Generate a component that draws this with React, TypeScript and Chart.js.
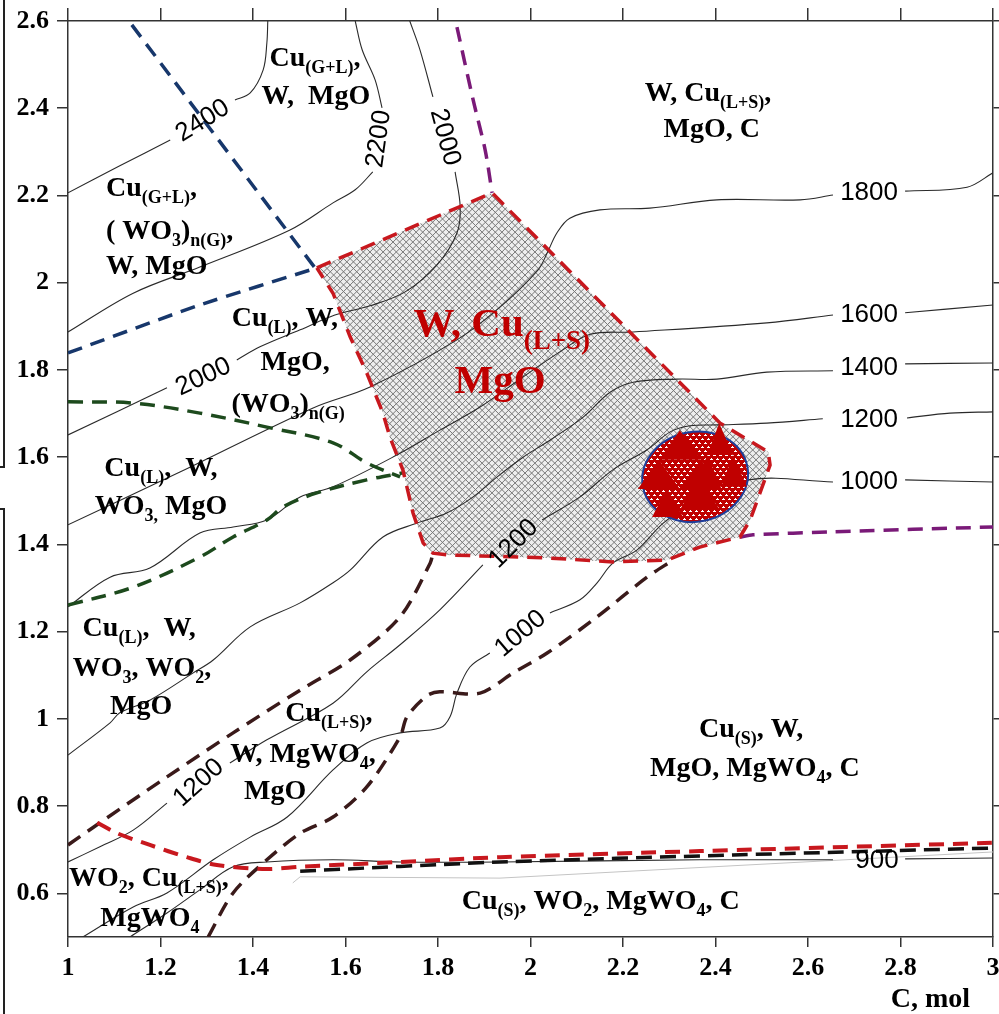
import React, { useEffect, useRef } from 'react';
import { Chart, registerables } from 'chart.js';

Chart.register(...registerables);

type P = [number, number];

// ---------- axes ----------
const xTicks = [1, 1.2, 1.4, 1.6, 1.8, 2, 2.2, 2.4, 2.6, 2.8, 3];
const xTickLabels = ['1', '1.2', '1.4', '1.6', '1.8', '2', '2.2', '2.4', '2.6', '2.8', '3'];
const yTicks = [0.6, 0.8, 1, 1.2, 1.4, 1.6, 1.8, 2, 2.2, 2.4, 2.6];
const yTickLabels = ['0.6', '0.8', '1', '1.2', '1.4', '1.6', '1.8', '2', '2.2', '2.4', '2.6'];
const xAxisTitle = 'C, mol';

// ---------- isotherms (segments split at label gaps) ----------
const iso2400: P[][] = [
  [[1.0, 2.206], [1.112, 2.268], [1.221, 2.327]],
  [[1.361, 2.419], [1.394, 2.435], [1.422, 2.488], [1.43, 2.55], [1.432, 2.6]],
];
const iso2200: P[][] = [
  [[1.0, 1.887], [1.141, 1.976], [1.285, 2.036], [1.48, 2.121], [1.573, 2.183], [1.621, 2.213], [1.659, 2.254]],
  [[1.679, 2.401], [1.664, 2.465], [1.636, 2.534], [1.621, 2.6]],
];
const iso2000: P[][] = [
  [[1.739, 2.6], [1.761, 2.534], [1.789, 2.426]],
  [[1.837, 2.254], [1.848, 2.174], [1.841, 2.114], [1.798, 2.041], [1.729, 1.979], [1.653, 1.947], [1.577, 1.926], [1.502, 1.892], [1.415, 1.853], [1.365, 1.823]],
  [[1.214, 1.759], [1.0, 1.651]],
];
const iso1800: P[][] = [
  [[1.0, 1.445], [1.242, 1.566], [1.53, 1.713], [1.653, 1.761], [1.841, 1.869], [1.934, 1.944], [2.016, 2.029], [2.036, 2.068], [2.057, 2.114], [2.085, 2.148], [2.15, 2.167], [2.258, 2.171], [2.403, 2.19], [2.583, 2.19], [2.654, 2.201]],
  [[2.81, 2.21], [2.944, 2.219], [3.0, 2.252]],
];
const iso1600: P[][] = [
  [[1.0, 1.257], [1.091, 1.325], [1.177, 1.346], [1.285, 1.426], [1.357, 1.44], [1.43, 1.456], [1.502, 1.509], [1.573, 1.532], [1.711, 1.605], [1.804, 1.662], [1.891, 1.715], [1.984, 1.784], [2.07, 1.846], [2.129, 1.882], [2.222, 1.887], [2.511, 1.908], [2.654, 1.926]],
  [[2.81, 1.931], [3.0, 1.949]],
];
const iso1400: P[][] = [
  [[1.0, 0.917], [1.091, 0.991], [1.112, 1.014], [1.177, 1.043], [1.27, 1.105], [1.314, 1.135], [1.394, 1.211], [1.502, 1.266], [1.573, 1.312], [1.61, 1.341], [1.681, 1.417], [1.755, 1.449], [1.819, 1.472], [1.876, 1.509], [1.928, 1.555], [1.984, 1.6], [2.042, 1.639], [2.114, 1.692], [2.172, 1.749], [2.222, 1.772], [2.317, 1.779], [2.403, 1.779], [2.511, 1.795], [2.654, 1.798]],
  [[2.81, 1.814], [3.0, 1.816]],
];
const iso1200: P[][] = [
  [[1.0, 0.672], [1.069, 0.707], [1.141, 0.745], [1.214, 0.807]],
  [[1.35, 0.899], [1.43, 0.952], [1.573, 1.036], [1.646, 1.108], [1.718, 1.17], [1.804, 1.25], [1.897, 1.353]],
  [[2.025, 1.456], [2.107, 1.509], [2.178, 1.571], [2.252, 1.617], [2.302, 1.658], [2.345, 1.672], [2.403, 1.674], [2.511, 1.678], [2.632, 1.688]],
  [[2.814, 1.69], [2.907, 1.701], [3.0, 1.704]],
];
const iso1000: P[][] = [
  [[1.032, 0.5], [1.141, 0.569], [1.214, 0.601], [1.314, 0.677], [1.394, 0.729], [1.474, 0.775], [1.573, 0.883], [1.646, 0.945], [1.718, 0.968], [1.804, 0.979], [1.826, 1.005], [1.841, 1.059], [1.869, 1.119], [1.912, 1.151]],
  [[2.042, 1.243], [2.107, 1.273], [2.144, 1.312], [2.178, 1.357], [2.23, 1.387], [2.287, 1.449], [2.345, 1.49], [2.47, 1.548], [2.654, 1.543]],
  [[2.81, 1.548], [3.0, 1.543]],
];
const iso900: P[][] = [
  [[1.134, 0.5], [1.214, 0.555], [1.285, 0.608], [1.357, 0.661], [1.43, 0.672], [1.573, 0.677], [1.718, 0.672], [1.934, 0.672], [2.366, 0.677], [2.654, 0.677]],
  [[2.81, 0.679], [3.0, 0.681]],
];

// isotherm labels: text, x, y, rotation (deg)
const isoLabelText = ['2400', '2200', '2000', '2000', '1800', '1600', '1400', '1200', '1000', '1200', '1000', '1200', '900'];
const isoLabelX = [1.29, 1.67, 1.817, 1.292, 2.732, 2.732, 2.732, 2.732, 2.732, 1.962, 1.977, 1.281, 2.749];
const isoLabelY = [2.373, 2.33, 2.334, 1.786, 2.208, 1.928, 1.807, 1.688, 1.545, 1.403, 1.197, 0.855, 0.677];
const isoLabelRot = [-32, -82, 75, -25, 0, 0, 0, 0, 0, -45, -40, -42, 0];

// ---------- phase boundaries ----------
const blueA: P[] = [[1.138, 2.591], [1.534, 2.034]];
const blueB: P[] = [[1.0, 1.839], [1.285, 1.949], [1.538, 2.034]];
const greenUpper: P[] = [[1.0, 1.727], [1.141, 1.724], [1.285, 1.701], [1.43, 1.669], [1.573, 1.633], [1.646, 1.587], [1.718, 1.555]];
const greenLower: P[] = [[1.0, 1.261], [1.141, 1.302], [1.285, 1.371], [1.357, 1.417], [1.43, 1.456], [1.465, 1.486], [1.538, 1.518], [1.646, 1.548], [1.724, 1.564]];
const purpleUpper: P[] = [[1.841, 2.586], [1.876, 2.419], [1.902, 2.304], [1.917, 2.206]];
const purpleLower: P[] = [[2.453, 1.417], [2.481, 1.422], [2.654, 1.429], [3.0, 1.44]];
const brownA: P[] = [[1.0, 0.711], [1.069, 0.762], [1.214, 0.867], [1.357, 0.968], [1.502, 1.066], [1.61, 1.135], [1.718, 1.234], [1.783, 1.357], [1.789, 1.38]];
const brownB: P[] = [[1.303, 0.5], [1.357, 0.601], [1.43, 0.677], [1.502, 0.738], [1.573, 0.775], [1.646, 0.844], [1.718, 0.959], [1.733, 1.005], [1.776, 1.053], [1.804, 1.062], [1.891, 1.059], [1.962, 1.105], [2.036, 1.151], [2.144, 1.234], [2.252, 1.325], [2.308, 1.364]];
const redLower: P[] = [[1.063, 0.762], [1.106, 0.738], [1.177, 0.711], [1.257, 0.683], [1.322, 0.665], [1.43, 0.656], [1.502, 0.661], [1.718, 0.672], [1.934, 0.683], [2.366, 0.697], [3.0, 0.716]];
const blackDashed: P[] = [[1.502, 0.651], [1.934, 0.672], [2.438, 0.688], [3.0, 0.704]];
const greyOutline: P[] = [[1.486, 0.624], [1.502, 0.638], [1.934, 0.635], [3.0, 0.695]];

// hatched region W, Cu(L+S), MgO
const hatchRegion: P[] = [[1.538, 2.034], [1.917, 2.206], [2.41, 1.678], [2.514, 1.612], [2.518, 1.582], [2.475, 1.456], [2.453, 1.417], [2.366, 1.394], [2.295, 1.364], [2.178, 1.36], [2.036, 1.369], [1.819, 1.376], [1.789, 1.38], [1.768, 1.403], [1.746, 1.472], [1.724, 1.571], [1.696, 1.646], [1.681, 1.701], [1.646, 1.793], [1.61, 1.876], [1.573, 1.976], [1.538, 2.034]];

// optimum zone ellipse and triangles
const ellipseCenter: P = [2.356, 1.555];
const ellipseRadius: P = [0.115, 0.103];
const triangles: P[][] = [
  [[2.323, 1.662], [2.278, 1.594], [2.369, 1.594]],
  [[2.278, 1.594], [2.232, 1.527], [2.323, 1.527]],
  [[2.369, 1.594], [2.323, 1.527], [2.414, 1.527]],
  [[2.408, 1.678], [2.382, 1.605], [2.438, 1.605]],
  [[2.382, 1.605], [2.356, 1.532], [2.412, 1.532]],
  [[2.438, 1.605], [2.412, 1.532], [2.468, 1.532]],
  [[2.295, 1.529], [2.263, 1.463], [2.33, 1.463]],
  [[2.362, 1.555], [2.323, 1.479], [2.41, 1.479]],
];

// region labels (x, y in data units)
const regionText = [
  'Cu_{(G+L)},', 'W,  MgO',
  'Cu_{(G+L)},', '( WO_{3})_{n(G)},', 'W, MgO',
  'Cu_{(L)}, W,', 'MgO,', '(WO_{3})_{n(G)}',
  'Cu_{(L)},  W,', 'WO_{3,} MgO',
  'Cu_{(L)},  W,', 'WO_{3}, WO_{2},', 'MgO',
  'Cu_{(L+S)},', 'W, MgWO_{4},', 'MgO',
  'WO_{2}, Cu_{(L+S)},', 'MgWO_{4}',
  'Cu_{(S)}, WO_{2}, MgWO_{4}, C',
  'Cu_{(S)}, W,', 'MgO, MgWO_{4}, C',
  'W, Cu_{(L+S)},', 'MgO, C',
];
const regionX = [1.534, 1.536, 1.082, 1.082, 1.082, 1.469, 1.491, 1.476, 1.201, 1.201, 1.154, 1.16, 1.158, 1.564, 1.508, 1.448, 1.175, 1.177, 2.152, 2.477, 2.485, 2.384, 2.392];
const regionY = [2.517, 2.43, 2.219, 2.121, 2.041, 1.921, 1.821, 1.724, 1.578, 1.49, 1.211, 1.119, 1.032, 1.016, 0.922, 0.837, 0.638, 0.546, 0.585, 0.979, 0.89, 2.437, 2.355];
const regionLeftAligned = [2, 3, 4];

const mainText = ['W, Cu_{(L+S)}', 'MgO'];
const mainX = [1.938, 1.934];
const mainY = [1.908, 1.779];

// ---------- drawing helpers ----------
const SERIF = '"Liberation Serif", "Times New Roman", serif';
const SANS = '"Liberation Sans", Arial, sans-serif';

function parseRich(s: string) {
  const out: { t: string; sub: boolean }[] = [];
  let i = 0;
  while (i < s.length) {
    const k = s.indexOf('_{', i);
    if (k < 0) { out.push({ t: s.slice(i), sub: false }); break; }
    if (k > i) out.push({ t: s.slice(i, k), sub: false });
    const e = s.indexOf('}', k);
    out.push({ t: s.slice(k + 2, e), sub: true });
    i = e + 1;
  }
  return out;
}

function drawRich(ctx: CanvasRenderingContext2D, s: string, x: number, y: number, size: number, color: string, left: boolean, subOff: number) {
  const subSize = Math.round(size * 0.65);
  const segs = parseRich(s);
  const fontFor = (sub: boolean) => `bold ${sub ? subSize : size}px ${SERIF}`;
  let w = 0;
  for (const g of segs) { ctx.font = fontFor(g.sub); w += ctx.measureText(g.t).width; }
  let cx = left ? x : x - w / 2;
  const base = y + size * 0.33;
  ctx.fillStyle = color;
  ctx.textAlign = 'left';
  ctx.textBaseline = 'alphabetic';
  for (const g of segs) {
    ctx.font = fontFor(g.sub);
    ctx.fillText(g.t, cx, g.sub ? base + size * subOff : base);
    cx += ctx.measureText(g.t).width;
  }
}

const mk = (pts: P[], color: string, width: number, dash: number[], tension: number, order: number) => ({
  data: pts.map(([x, y]) => ({ x, y })),
  showLine: true,
  pointRadius: 0,
  pointHoverRadius: 0,
  borderColor: color,
  backgroundColor: color,
  borderWidth: width,
  borderDash: dash,
  borderCapStyle: 'butt' as const,
  tension,
  fill: false,
  order,
});

const CONTOUR = '#2a2a2a';
const RED = '#c8181e';
const BLUE = '#17376b';
const GREEN = '#1d4a1d';
const PURPLE = '#7a1a78';
const BROWN = '#3a1a1a';

function buildDatasets() {
  const ds: any[] = [];
  for (const iso of [iso2400, iso2200, iso2000, iso1800, iso1600, iso1400, iso1200, iso1000, iso900]) {
    for (const seg of iso) ds.push(mk(seg, CONTOUR, 1.1, [], 0.35, 6));
  }
  ds.push(mk(greyOutline, '#c4c4c4', 1, [], 0, 7));
  const d = [15, 9];
  ds.push(mk(blueA, BLUE, 3.5, d, 0, 2));
  ds.push(mk(blueB, BLUE, 3.5, d, 0.2, 2));
  ds.push(mk(greenUpper, GREEN, 3.5, d, 0.35, 2));
  ds.push(mk(greenLower, GREEN, 3.5, d, 0.35, 2));
  ds.push(mk(purpleUpper, PURPLE, 3.5, d, 0.3, 2));
  ds.push(mk(purpleLower, PURPLE, 3.5, d, 0.2, 2));
  ds.push(mk(brownA, BROWN, 3.5, d, 0.3, 2));
  ds.push(mk(brownB, BROWN, 3.5, d, 0.3, 2));
  ds.push(mk(blackDashed, '#111', 3.5, [16, 8], 0.2, 3));
  ds.push(mk(redLower, RED, 4, d, 0.3, 1));
  ds.push(mk(hatchRegion, RED, 3.5, d, 0, 1));
  return ds;
}

const hatchPlugin = {
  id: 'hatchFill',
  beforeDatasetsDraw(chart: any) {
    const { ctx, scales } = chart;
    const xs = scales.x, ys = scales.y;
    const pts = hatchRegion.map(([a, b]) => [xs.getPixelForValue(a), ys.getPixelForValue(b)]);
    ctx.save();
    ctx.beginPath();
    pts.forEach(([px, py], i) => (i ? ctx.lineTo(px, py) : ctx.moveTo(px, py)));
    ctx.closePath();
    ctx.fillStyle = '#eeeeee';
    ctx.fill();
    ctx.clip();
    let minX = Infinity, maxX = -Infinity, minY = Infinity, maxY = -Infinity;
    for (const [px, py] of pts) { minX = Math.min(minX, px); maxX = Math.max(maxX, px); minY = Math.min(minY, py); maxY = Math.max(maxY, py); }
    const h = maxY - minY;
    ctx.strokeStyle = '#767676';
    ctx.lineWidth = 1;
    ctx.beginPath();
    const step = 6.6;
    for (let s = minX - h; s < maxX + h; s += step) {
      ctx.moveTo(s, minY); ctx.lineTo(s + h, maxY);
      ctx.moveTo(s, maxY); ctx.lineTo(s + h, minY);
    }
    ctx.stroke();
    ctx.restore();
  },
};

const overlayPlugin = {
  id: 'overlay',
  afterDatasetsDraw(chart: any) {
    const { ctx, scales, chartArea } = chart;
    const xs = scales.x, ys = scales.y;
    const X = (v: number) => xs.getPixelForValue(v);
    const Y = (v: number) => ys.getPixelForValue(v);

    // ellipse
    const cx = X(ellipseCenter[0]), cy = Y(ellipseCenter[1]);
    const rx = X(ellipseCenter[0] + ellipseRadius[0]) - cx;
    const ry = cy - Y(ellipseCenter[1] + ellipseRadius[1]);
    ctx.save();
    ctx.beginPath();
    ctx.ellipse(cx, cy, rx, ry, -0.2, 0, Math.PI * 2);
    ctx.fillStyle = '#c00000';
    ctx.fill();
    ctx.save();
    ctx.clip();
    ctx.fillStyle = '#ffffff';
    let row = 0;
    for (let gy = Math.floor(cy - ry); gy < cy + ry; gy += 4, row++) {
      const o = row % 2 ? 3 : 0;
      for (let gx = Math.floor(cx - rx); gx < cx + rx; gx += 6) {
        ctx.fillRect(gx + o, gy, 3, 1);
        ctx.fillRect(gx + o + 1, gy - 1, 1, 2);
      }
    }
    ctx.restore();
    ctx.beginPath();
    ctx.ellipse(cx, cy, rx, ry, -0.2, 0, Math.PI * 2);
    ctx.strokeStyle = '#1f3f9a';
    ctx.lineWidth = 2;
    ctx.stroke();
    ctx.fillStyle = '#c00000';
    for (const tri of triangles) {
      ctx.beginPath();
      tri.forEach(([a, b], i) => (i ? ctx.lineTo(X(a), Y(b)) : ctx.moveTo(X(a), Y(b))));
      ctx.closePath();
      ctx.fill();
    }
    ctx.restore();

    // isotherm labels
    ctx.save();
    ctx.fillStyle = '#000';
    ctx.font = `26px ${SANS}`;
    ctx.textAlign = 'center';
    ctx.textBaseline = 'middle';
    isoLabelText.forEach((t, i) => {
      ctx.save();
      ctx.translate(X(isoLabelX[i]), Y(isoLabelY[i]));
      ctx.rotate((isoLabelRot[i] * Math.PI) / 180);
      ctx.fillText(t, 0, 1);
      ctx.restore();
    });
    ctx.restore();

    // region labels
    ctx.save();
    regionText.forEach((t, i) => {
      drawRich(ctx, t, X(regionX[i]), Y(regionY[i]), 28, '#000', regionLeftAligned.includes(i), 0.25);
    });
    mainText.forEach((t, i) => {
      drawRich(ctx, t, X(mainX[i]), Y(mainY[i]), 41, '#c00000', false, 0.3);
    });
    // axis title
    ctx.font = `bold 28px ${SERIF}`;
    ctx.fillStyle = '#000';
    ctx.textAlign = 'right';
    ctx.textBaseline = 'alphabetic';
    ctx.fillText(xAxisTitle, chartArea.right - 23, chartArea.bottom + 70);
    ctx.restore();
  },
};

export default function App() {
  const ref = useRef<HTMLCanvasElement>(null);
  useEffect(() => {
    const canvas = ref.current;
    if (!canvas) return;
    const tickFont = { family: SERIF, size: 26, weight: 'bold' as const };
    const gridBase = { drawOnChartArea: false, drawTicks: true, color: '#333', lineWidth: 1.5 };
    const border = { display: true, color: '#333', width: 1.5 };
    const noPadX = (s: any, h: number) => { s.height = h; s.paddingLeft = 0; s.paddingRight = 0; };
    const noPadY = (s: any, w: number) => { s.width = w; s.paddingTop = 0; s.paddingBottom = 0; };
    const chart = new Chart(canvas, {
      type: 'scatter',
      data: { datasets: buildDatasets() },
      options: {
        animation: false,
        responsive: false,
        maintainAspectRatio: false,
        devicePixelRatio: 1,
        events: [],
        layout: { padding: { left: 8, right: 0, top: 0, bottom: 0 } },
        plugins: { legend: { display: false }, tooltip: { enabled: false } },
        scales: {
          x: {
            type: 'linear', position: 'bottom', min: 1, max: 3,
            afterBuildTicks: (s: any) => { s.ticks = xTicks.map((v) => ({ value: v })); },
            afterFit: (s: any) => noPadX(s, 77),
            ticks: { font: tickFont, color: '#000', padding: 6, maxRotation: 0, autoSkip: false, callback: (_v: any, i: number) => xTickLabels[i] },
            grid: { ...gridBase, tickLength: 10 },
            border,
          },
          x2: {
            type: 'linear', position: 'top', min: 1, max: 3,
            afterBuildTicks: (s: any) => { s.ticks = xTicks.map((v) => ({ value: v })); },
            afterFit: (s: any) => noPadX(s, 21),
            ticks: { display: false },
            grid: { ...gridBase, tickLength: 13 },
            border,
          },
          y: {
            type: 'linear', position: 'left', min: 0.5, max: 2.6,
            afterBuildTicks: (s: any) => { s.ticks = yTicks.map((v) => ({ value: v })); },
            afterFit: (s: any) => noPadY(s, 60),
            ticks: { font: tickFont, color: '#000', padding: 8, autoSkip: false, callback: (_v: any, i: number) => yTickLabels[i] },
            grid: { ...gridBase, tickLength: 11 },
            border,
          },
          y2: {
            type: 'linear', position: 'right', min: 0.5, max: 2.6,
            afterBuildTicks: (s: any) => { s.ticks = yTicks.map((v) => ({ value: v })); },
            afterFit: (s: any) => noPadY(s, 6),
            ticks: { display: false },
            grid: { ...gridBase, tickLength: 6 },
            border,
          },
        },
      } as any,
      plugins: [hatchPlugin, overlayPlugin],
    });
    return () => chart.destroy();
  }, []);

  return (
    <div style={{ position: 'absolute', left: 0, top: 0, width: 999, height: 1014, background: '#fff', overflow: 'hidden' }}>
      <canvas ref={ref} width={999} height={1014} style={{ display: 'block', width: 999, height: 1014 }} />
      <div style={{ position: 'absolute', left: 3, top: 0, width: 2, height: 468, background: '#222' }} />
      <div style={{ position: 'absolute', left: 0, top: 466, width: 5, height: 2, background: '#222' }} />
      <div style={{ position: 'absolute', left: 3, top: 508, width: 2, height: 506, background: '#222' }} />
      <div style={{ position: 'absolute', left: 0, top: 508, width: 5, height: 2, background: '#222' }} />
    </div>
  );
}
